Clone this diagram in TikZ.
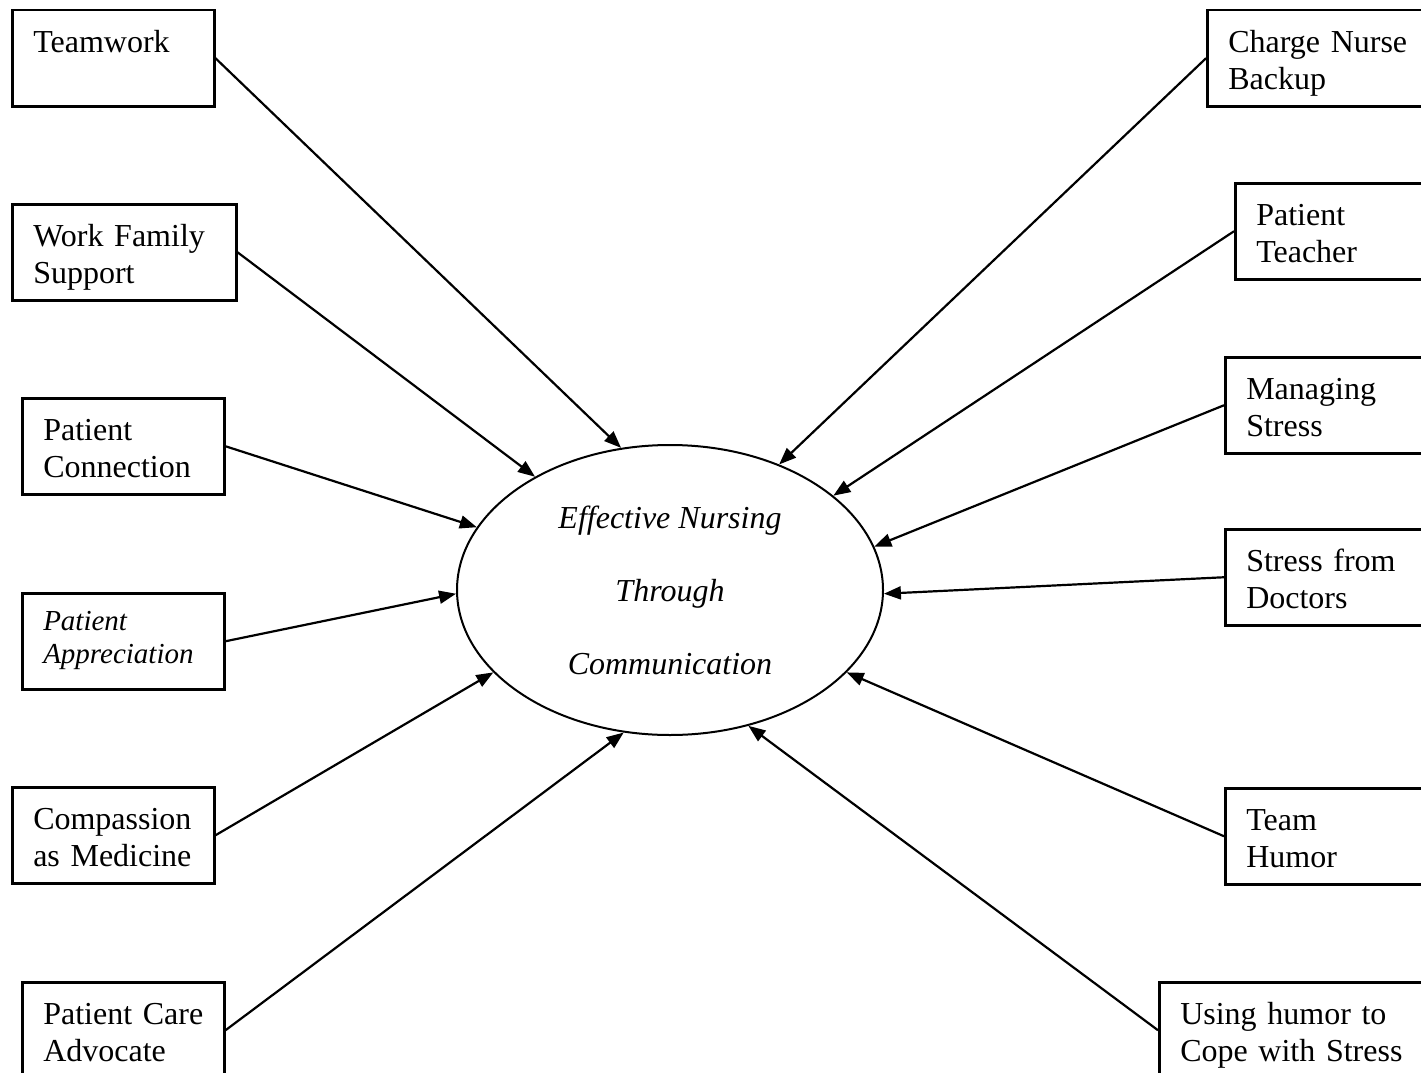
\documentclass[tikz,border=0pt]{standalone}
\usepackage{fontspec}
\setmainfont{Liberation Serif}
\usetikzlibrary{arrows.meta,shapes.geometric}

\begin{document}
\begin{tikzpicture}[x=1pt, y=-1pt,
    themeBox/.style={rectangle, draw, line width=2.5pt, anchor=north west, align=left,
        inner xsep=21pt, inner ysep=0pt, text height=42pt, text depth=54pt,
        font=\fontsize{32}{36.8}\selectfont},
    linkArrow/.style={-{Triangle[length=17pt, width=13pt]}, line width=2.2pt}]
    \useasboundingbox (0,0) rectangle (1421,1073);
    \clip (0,0) rectangle (1421,1073);

    % left column
    \node[themeBox, text width=160pt] (teamwork) at (11,9) {Teamwork};
    \node[themeBox, text width=182pt] (wfsupport) at (11,203) {Work Family\\Support};
    \node[themeBox, text width=160pt] (pconnect) at (21,397) {Patient\\Connection};
    \node[themeBox, text width=160pt, text height=37pt, text depth=59pt,
        font=\fontsize{29}{33}\selectfont\itshape] (pappreciate) at (21,592) {Patient\\Appreciation};
    \node[themeBox, text width=160pt] (compassion) at (11,786) {Compassion\\as Medicine};
    \node[themeBox, text width=160pt] (advocate) at (21,981) {Patient Care\\Advocate};

    % right column
    \node[themeBox, text width=192pt] (backup) at (1206,9) {Charge Nurse\\Backup};
    \node[themeBox, text width=164pt] (pteacher) at (1234,182) {Patient\\Teacher};
    \node[themeBox, text width=174pt] (mstress) at (1224,356) {Managing\\Stress};
    \node[themeBox, text width=174pt] (dstress) at (1224,528) {Stress from\\Doctors};
    \node[themeBox, text width=174pt] (thumor) at (1224,787) {Team\\Humor};
    \node[themeBox, text width=240pt] (copehumor) at (1158,981) {Using humor to\\Cope with Stress};

    % centre
    \node[ellipse, draw, line width=2pt, minimum width=426pt, minimum height=290pt, inner sep=0pt,
        align=center, font=\fontsize{32}{73}\selectfont\itshape] (nursing) at (670,590)
        {Effective Nursing\\Through\\Communication};

    \draw[linkArrow] (teamwork.east) -- (nursing.109);
    \draw[linkArrow] (wfsupport.east) -- (nursing.140);
    \draw[linkArrow] (pconnect.east) -- (nursing.162);
    \draw[linkArrow] (pappreciate.east) -- (nursing.181);
    \draw[linkArrow] (compassion.east) -- (nursing.205);
    \draw[linkArrow] (advocate.east) -- (nursing.252);
    \draw[linkArrow] (backup.west) -- (nursing.49);
    \draw[linkArrow] (pteacher.west) -- (nursing.30);
    \draw[linkArrow] (mstress.west) -- (nursing.12);
    \draw[linkArrow] (dstress.west) -- (nursing.359);
    \draw[linkArrow] (thumor.west) -- (nursing.335);
    \draw[linkArrow] (copehumor.west) -- (nursing.300);
\end{tikzpicture}
\end{document}
